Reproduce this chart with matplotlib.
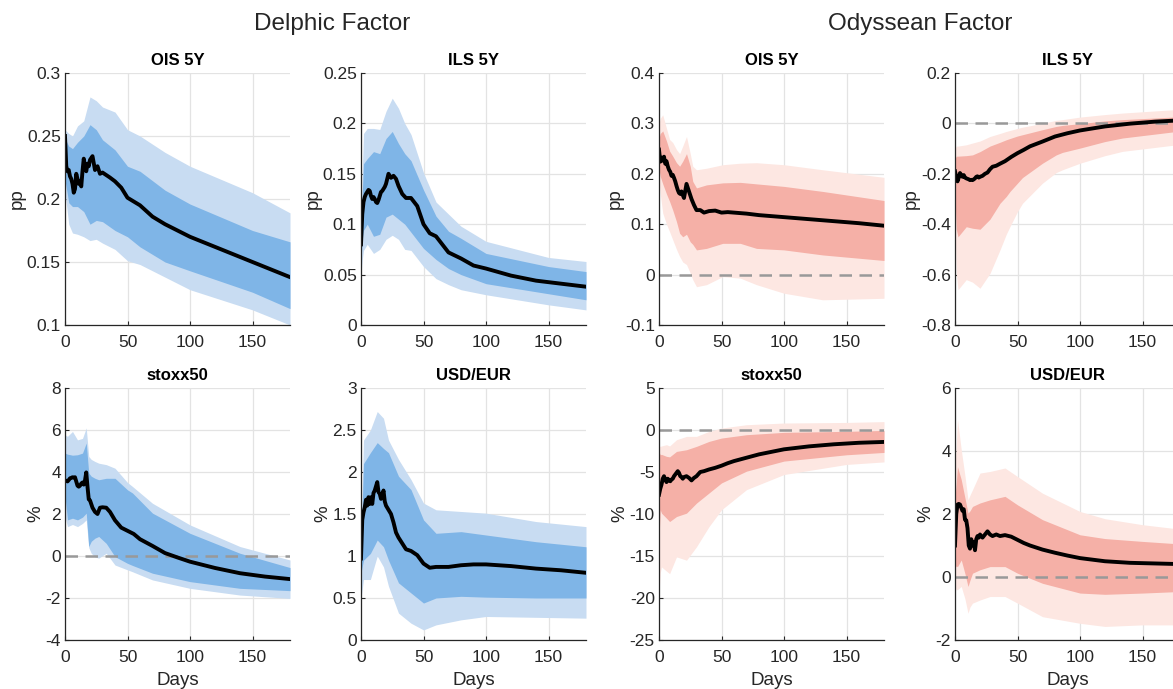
import numpy as np
import matplotlib
matplotlib.use('Agg')
import matplotlib.pyplot as plt

plt.rcParams['font.family'] = ['Liberation Sans', 'DejaVu Sans']

# common day grid for the median responses
med_days = [0, 1, 2, 3, 4, 5, 6, 7, 8, 9, 10, 11, 12, 13, 14, 15, 16, 17, 18, 19, 20,
            22, 24, 26, 28, 30, 33, 36, 40, 45, 50, 55, 60, 70, 80, 90, 100, 120, 140, 160, 180]

# ---------------- Delphic factor ----------------
# OIS 5Y
d_ois_med = [0.250, 0.226, 0.222, 0.223, 0.218, 0.216, 0.212, 0.205, 0.208, 0.220, 0.216, 0.212, 0.214,
             0.210, 0.222, 0.232, 0.226, 0.222, 0.228, 0.226, 0.231, 0.234, 0.223, 0.226, 0.220, 0.221,
             0.219, 0.217, 0.214, 0.209, 0.201, 0.198, 0.195, 0.186, 0.180, 0.175, 0.170, 0.162, 0.154,
             0.146, 0.138]
d_ois_bdays = [0, 3, 6, 10, 15, 20, 25, 30, 40, 50, 60, 80, 100, 150, 180]
d_ois_hi90 = [0.255, 0.252, 0.250, 0.258, 0.262, 0.281, 0.278, 0.273, 0.269, 0.255, 0.250, 0.237, 0.226, 0.205, 0.189]
d_ois_hi68 = [0.248, 0.242, 0.240, 0.245, 0.250, 0.259, 0.255, 0.247, 0.239, 0.226, 0.222, 0.207, 0.196, 0.175, 0.166]
d_ois_lo68 = [0.215, 0.197, 0.194, 0.194, 0.190, 0.180, 0.183, 0.182, 0.175, 0.170, 0.162, 0.150, 0.143, 0.126, 0.113]
d_ois_lo90 = [0.205, 0.180, 0.173, 0.172, 0.170, 0.167, 0.168, 0.165, 0.160, 0.151, 0.148, 0.138, 0.128, 0.112, 0.100]

# ILS 5Y
d_ils_med = [0.080, 0.110, 0.122, 0.127, 0.130, 0.132, 0.134, 0.133, 0.128, 0.125, 0.127, 0.125, 0.122,
             0.121, 0.124, 0.128, 0.132, 0.133, 0.135, 0.137, 0.140, 0.150, 0.146, 0.148, 0.145, 0.138,
             0.130, 0.126, 0.126, 0.118, 0.100, 0.091, 0.088, 0.072, 0.066, 0.059, 0.056, 0.049, 0.044,
             0.041, 0.038]
d_ils_bdays = [0, 1, 2, 5, 10, 15, 20, 25, 30, 35, 40, 50, 60, 70, 80, 100, 150, 180]
d_ils_hi90 = [0.100, 0.150, 0.190, 0.195, 0.195, 0.194, 0.212, 0.225, 0.215, 0.200, 0.189, 0.151, 0.122, 0.110, 0.098, 0.083, 0.067, 0.063]
d_ils_hi68 = [0.090, 0.130, 0.160, 0.165, 0.172, 0.170, 0.185, 0.192, 0.180, 0.170, 0.163, 0.134, 0.108, 0.093, 0.086, 0.071, 0.058, 0.053]
d_ils_lo68 = [0.065, 0.085, 0.094, 0.100, 0.088, 0.090, 0.107, 0.110, 0.105, 0.100, 0.092, 0.076, 0.065, 0.056, 0.050, 0.041, 0.031, 0.025]
d_ils_lo90 = [0.050, 0.065, 0.074, 0.080, 0.071, 0.075, 0.085, 0.089, 0.085, 0.075, 0.074, 0.058, 0.046, 0.040, 0.035, 0.030, 0.020, 0.015]

# stoxx50
d_stx_med = [3.60, 3.58, 3.55, 3.62, 3.70, 3.72, 3.75, 3.74, 3.75, 3.55, 3.35, 3.30, 3.35, 3.45, 3.50,
             3.40, 3.60, 3.98, 3.30, 2.70, 2.65, 2.30, 2.10, 2.00, 2.30, 2.32, 2.30, 2.10, 1.70, 1.35,
             1.20, 1.05, 0.80, 0.48, 0.14, -0.07, -0.27, -0.57, -0.82, -0.98, -1.10]
d_stx_bdays = [0, 2, 6, 10, 14, 17, 19, 21, 24, 27, 33, 40, 50, 54, 70, 100, 140, 180]
d_stx_hi90 = [5.77, 5.70, 5.93, 5.53, 5.60, 6.10, 4.74, 4.60, 4.50, 4.42, 4.35, 4.18, 3.50, 3.31, 2.51, 1.48, 0.45, -0.19]
d_stx_hi68 = [4.90, 4.85, 4.80, 4.82, 4.90, 5.38, 3.95, 3.80, 3.70, 3.63, 3.70, 3.70, 3.15, 3.00, 2.04, 1.08, 0.13, -0.55]
d_stx_lo68 = [2.83, 1.72, 1.80, 1.72, 1.85, 2.04, 0.45, 0.70, 0.85, 0.93, 0.60, -0.03, -0.35, -0.45, -0.82, -1.22, -1.54, -1.65]
d_stx_lo90 = [1.88, 1.40, 1.50, 1.40, 1.55, 1.72, 0.40, 0.13, -0.05, -0.10, 0.13, -0.43, -0.66, -0.75, -1.14, -1.54, -1.86, -2.02]

# USD/EUR
d_fx_med = [0.97, 1.43, 1.52, 1.58, 1.67, 1.60, 1.70, 1.62, 1.70, 1.62, 1.75, 1.78, 1.83, 1.88, 1.76,
            1.74, 1.68, 1.72, 1.78, 1.65, 1.60, 1.55, 1.50, 1.40, 1.28, 1.22, 1.15, 1.08, 1.06, 1.01,
            0.91, 0.86, 0.87, 0.87, 0.89, 0.90, 0.90, 0.88, 0.85, 0.83, 0.80]
d_fx_bdays = [0, 2, 7.5, 13, 18, 22, 30, 40, 50, 60, 80, 100, 140, 180]
d_fx_hi90 = [1.30, 2.38, 2.50, 2.72, 2.64, 2.38, 2.15, 1.91, 1.63, 1.55, 1.53, 1.51, 1.41, 1.35]
d_fx_hi68 = [1.10, 2.10, 2.23, 2.35, 2.28, 2.23, 1.95, 1.79, 1.43, 1.27, 1.29, 1.25, 1.17, 1.11]
d_fx_lo68 = [0.80, 0.95, 1.03, 1.19, 1.11, 0.95, 0.68, 0.56, 0.44, 0.50, 0.52, 0.51, 0.50, 0.50]
d_fx_lo90 = [0.50, 0.72, 0.72, 1.00, 0.87, 0.64, 0.32, 0.20, 0.12, 0.18, 0.24, 0.28, 0.27, 0.26]

# ---------------- Odyssean factor ----------------
# OIS 5Y
o_ois_med = [0.248, 0.224, 0.232, 0.226, 0.234, 0.220, 0.225, 0.215, 0.208, 0.204, 0.196, 0.198, 0.192,
             0.185, 0.176, 0.168, 0.162, 0.160, 0.165, 0.158, 0.152, 0.180, 0.165, 0.150, 0.138, 0.128,
             0.128, 0.123, 0.126, 0.127, 0.123, 0.124, 0.123, 0.121, 0.118, 0.116, 0.114, 0.110, 0.106,
             0.102, 0.097]
o_ois_bdays = [0, 1, 3, 6, 8.5, 11, 14, 16.5, 19, 22, 25, 27, 30, 38, 51, 65, 78, 100, 131, 180]
o_ois_hi90 = [0.300, 0.310, 0.317, 0.290, 0.268, 0.262, 0.248, 0.240, 0.255, 0.274, 0.240, 0.215, 0.208, 0.211, 0.218, 0.221, 0.222, 0.218, 0.208, 0.193]
o_ois_hi68 = [0.270, 0.280, 0.285, 0.265, 0.245, 0.235, 0.222, 0.215, 0.225, 0.240, 0.215, 0.185, 0.172, 0.178, 0.182, 0.183, 0.180, 0.175, 0.165, 0.147]
o_ois_lo68 = [0.210, 0.195, 0.180, 0.160, 0.145, 0.128, 0.105, 0.082, 0.075, 0.080, 0.065, 0.060, 0.049, 0.052, 0.062, 0.062, 0.052, 0.049, 0.039, 0.028]
o_ois_lo90 = [0.185, 0.160, 0.122, 0.100, 0.085, 0.069, 0.050, 0.036, 0.025, 0.020, 0.003, -0.010, -0.024, -0.020, -0.004, -0.007, -0.020, -0.037, -0.050, -0.047]

# ILS 5Y
o_ils_med = [-0.190, -0.215, -0.230, -0.215, -0.197, -0.205, -0.212, -0.205, -0.215, -0.218, -0.220,
             -0.222, -0.225, -0.224, -0.225, -0.222, -0.218, -0.212, -0.210, -0.215, -0.212, -0.208,
             -0.200, -0.195, -0.182, -0.172, -0.168, -0.160, -0.150, -0.133, -0.118, -0.105, -0.091,
             -0.072, -0.052, -0.039, -0.028, -0.012, -0.001, 0.007, 0.012]
o_ils_bdays = [0, 1, 2.4, 9, 14, 20, 28, 36, 41, 44, 50, 54, 70, 81, 86, 100, 120, 134, 174, 180]
o_ils_hi90 = [-0.10, -0.09, -0.09, -0.085, -0.078, -0.070, -0.052, -0.040, -0.032, -0.028, -0.020, -0.015, 0.000, 0.012, 0.015, 0.025, 0.035, 0.041, 0.054, 0.055]
o_ils_hi68 = [-0.14, -0.13, -0.13, -0.128, -0.125, -0.112, -0.090, -0.075, -0.065, -0.060, -0.050, -0.045, -0.025, -0.012, -0.008, -0.001, 0.010, 0.015, 0.025, 0.027]
o_ils_lo68 = [-0.30, -0.42, -0.45, -0.41, -0.416, -0.42, -0.38, -0.317, -0.29, -0.27, -0.237, -0.215, -0.158, -0.125, -0.115, -0.098, -0.072, -0.058, -0.034, -0.032]
o_ils_lo90 = [-0.40, -0.595, -0.66, -0.62, -0.63, -0.654, -0.595, -0.502, -0.44, -0.409, -0.35, -0.317, -0.237, -0.195, -0.184, -0.158, -0.128, -0.111, -0.087, -0.085]

# stoxx50
o_stx_med = [-7.7, -7.0, -6.5, -5.8, -5.5, -5.9, -6.2, -5.8, -6.0, -6.1, -5.9, -5.8, -5.5, -5.3, -5.1,
             -4.9, -5.1, -5.5, -5.6, -5.8, -5.6, -5.5, -5.7, -6.0, -5.7, -5.5, -5.0, -4.9, -4.7, -4.5,
             -4.25, -3.95, -3.7, -3.3, -2.9, -2.6, -2.3, -1.95, -1.7, -1.52, -1.42]
o_stx_bdays = [0, 1, 2, 6, 8.5, 14, 22, 30, 40, 50, 70, 100, 150, 180]
o_stx_hi90 = [-1.9, -1.95, -1.9, -1.75, -1.9, -1.16, -0.76, -0.76, -0.17, 0.23, 0.63, 0.83, 0.90, 1.00]
o_stx_hi68 = [-2.6, -2.95, -2.9, -3.14, -3.2, -2.55, -2.35, -1.95, -1.36, -0.96, -0.56, -0.28, -0.16, -0.05]
o_stx_lo68 = [-13.0, -9.5, -9.9, -10.5, -10.9, -10.3, -9.9, -8.7, -7.5, -6.3, -4.9, -3.7, -2.95, -2.67]
o_stx_lo90 = [-19.4, -17.0, -16.3, -16.8, -17.1, -15.1, -15.5, -13.9, -11.5, -9.5, -7.1, -5.3, -4.1, -3.8]

# USD/EUR
o_fx_med = [1.00, 2.00, 2.30, 2.32, 2.30, 2.20, 2.10, 2.15, 1.82, 1.80, 1.55, 1.00, 0.90, 1.20, 1.00,
            1.10, 0.85, 1.20, 1.30, 1.25, 1.35, 1.25, 1.35, 1.45, 1.35, 1.30, 1.35, 1.30, 1.33, 1.28,
            1.18, 1.08, 1.00, 0.87, 0.77, 0.68, 0.60, 0.50, 0.45, 0.43, 0.41]
o_fx_bdays = [0, 1, 2, 5, 8, 10.4, 12, 14, 20, 28, 40, 50, 70, 100, 120, 150, 180]
o_fx_hi90 = [3.5, 4.2, 5.0, 4.04, 3.2, 2.45, 2.6, 2.77, 3.30, 3.35, 3.46, 3.19, 2.66, 2.08, 1.85, 1.66, 1.52]
o_fx_hi68 = [2.5, 3.0, 3.5, 3.09, 2.5, 2.03, 2.1, 2.24, 2.35, 2.45, 2.56, 2.29, 1.82, 1.34, 1.22, 1.13, 1.05]
o_fx_lo68 = [0.3, 0.35, 0.33, 0.54, 0.1, -0.30, -0.1, 0.12, 0.23, 0.33, 0.33, 0.12, -0.20, -0.51, -0.55, -0.51, -0.46]
o_fx_lo90 = [-0.3, -0.41, -0.4, -0.30, -0.7, -1.15, -0.95, -0.83, -0.73, -0.62, -0.62, -0.83, -1.26, -1.47, -1.57, -1.52, -1.52]

# colours for the two factors: (outer band, inner band)
blue = ('#c8dcf2', '#7fb5e7')
red = ('#fde7e2', '#f5b0a7')

axis_col = '#262626'


def irf_panel(ax, title, ylab, bdays, lo90, hi90, lo68, hi68, med, cols, ylim, yticks, ytick_lbl, xlab=False):
    ax.fill_between(bdays, lo90, hi90, color=cols[0], lw=0, zorder=1)
    ax.fill_between(bdays, lo68, hi68, color=cols[1], lw=0, zorder=2)
    if ylim[0] < 0 < ylim[1]:
        ax.axhline(0, color='#999999', ls=(0, (5, 3)), lw=1.8, zorder=3)
    ax.plot(med_days, med, color='black', lw=2.8, zorder=4, solid_joinstyle='round')
    ax.set_xlim(0, 180)
    ax.set_ylim(*ylim)
    ax.set_xticks([0, 50, 100, 150])
    ax.set_yticks(yticks)
    ax.set_yticklabels(ytick_lbl)
    ax.grid(True, color='#e3e3e3', lw=0.9, zorder=0)
    ax.set_axisbelow(True)
    for s in ['top', 'right']:
        ax.spines[s].set_visible(False)
    for s in ['left', 'bottom']:
        ax.spines[s].set_color(axis_col)
        ax.spines[s].set_linewidth(0.9)
        ax.spines[s].set_zorder(5)
    ax.tick_params(direction='in', length=3, width=0.8, color=axis_col, labelcolor=axis_col,
                   labelsize=12.5)
    ax.tick_params(axis='x', pad=7)
    ax.tick_params(axis='y', pad=3)
    ax.set_title(title, fontsize=12, fontweight='bold', pad=6)
    ax.set_ylabel(ylab, fontsize=13.5, color=axis_col, labelpad=1)
    if xlab:
        ax.set_xlabel('Days', fontsize=13.5, color=axis_col, labelpad=5)


fig = plt.figure(figsize=(11.73, 6.89), dpi=100)

W, H = 1173.0, 689.0
lefts = [65, 361, 659, 955]
tops = [73, 388]
aw, ah = 225, 252


def make_ax(col, row):
    return fig.add_axes([lefts[col] / W, 1 - (tops[row] + ah) / H, aw / W, ah / H])


irf_panel(make_ax(0, 0), 'OIS 5Y', 'pp', d_ois_bdays, d_ois_lo90, d_ois_hi90, d_ois_lo68, d_ois_hi68,
          d_ois_med, blue, (0.1, 0.3), [0.1, 0.15, 0.2, 0.25, 0.3], ['0.1', '0.15', '0.2', '0.25', '0.3'])
irf_panel(make_ax(1, 0), 'ILS 5Y', 'pp', d_ils_bdays, d_ils_lo90, d_ils_hi90, d_ils_lo68, d_ils_hi68,
          d_ils_med, blue, (0, 0.25), [0, 0.05, 0.1, 0.15, 0.2, 0.25], ['0', '0.05', '0.1', '0.15', '0.2', '0.25'])
irf_panel(make_ax(0, 1), 'stoxx50', '%', d_stx_bdays, d_stx_lo90, d_stx_hi90, d_stx_lo68, d_stx_hi68,
          d_stx_med, blue, (-4, 8), [-4, -2, 0, 2, 4, 6, 8], ['-4', '-2', '0', '2', '4', '6', '8'], xlab=True)
irf_panel(make_ax(1, 1), 'USD/EUR', '%', d_fx_bdays, d_fx_lo90, d_fx_hi90, d_fx_lo68, d_fx_hi68,
          d_fx_med, blue, (0, 3), [0, 0.5, 1, 1.5, 2, 2.5, 3], ['0', '0.5', '1', '1.5', '2', '2.5', '3'], xlab=True)

irf_panel(make_ax(2, 0), 'OIS 5Y', 'pp', o_ois_bdays, o_ois_lo90, o_ois_hi90, o_ois_lo68, o_ois_hi68,
          o_ois_med, red, (-0.1, 0.4), [-0.1, 0, 0.1, 0.2, 0.3, 0.4], ['-0.1', '0', '0.1', '0.2', '0.3', '0.4'])
irf_panel(make_ax(3, 0), 'ILS 5Y', 'pp', o_ils_bdays, o_ils_lo90, o_ils_hi90, o_ils_lo68, o_ils_hi68,
          o_ils_med, red, (-0.8, 0.2), [-0.8, -0.6, -0.4, -0.2, 0, 0.2], ['-0.8', '-0.6', '-0.4', '-0.2', '0', '0.2'])
irf_panel(make_ax(2, 1), 'stoxx50', '%', o_stx_bdays, o_stx_lo90, o_stx_hi90, o_stx_lo68, o_stx_hi68,
          o_stx_med, red, (-25, 5), [-25, -20, -15, -10, -5, 0, 5], ['-25', '-20', '-15', '-10', '-5', '0', '5'], xlab=True)
irf_panel(make_ax(3, 1), 'USD/EUR', '%', o_fx_bdays, o_fx_lo90, o_fx_hi90, o_fx_lo68, o_fx_hi68,
          o_fx_med, red, (-2, 6), [-2, 0, 2, 4, 6], ['-2', '0', '2', '4', '6'], xlab=True)

# factor headings over each pair of columns
fig.text(332 / W, 1 - 24 / H, 'Delphic Factor', ha='center', va='center', fontsize=17.5, color=axis_col)
fig.text(920 / W, 1 - 24 / H, 'Odyssean Factor', ha='center', va='center', fontsize=17.5, color=axis_col)

fig.savefig('out.png', dpi=100)
